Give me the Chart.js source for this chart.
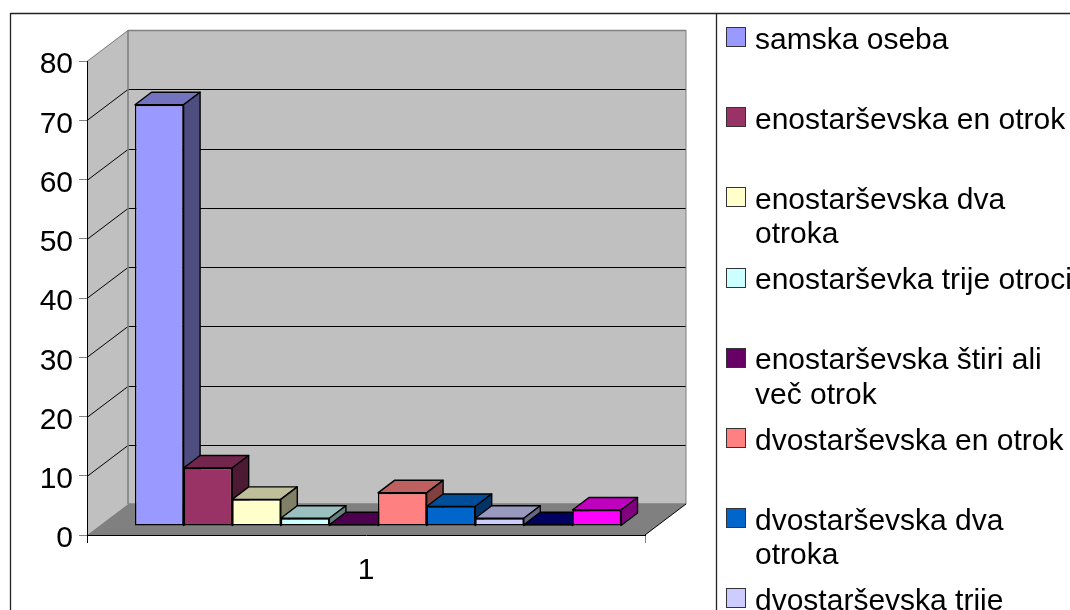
<!DOCTYPE html>
<html>
<head>
<meta charset="utf-8">
<title>Chart</title>
<script src="https://cdn.jsdelivr.net/npm/chart.js@4/dist/chart.umd.min.js"></script>
<style>
body { margin: 0; background: #fff; }
canvas { display: block; }
</style>
</head>
<body>
<canvas id="chart" width="1070" height="610"></canvas>
<script>
var categories = ["1"];
var seriesNames = [
    "samska oseba",
    "enostarševska en otrok",
    "enostarševska dva\notroka",
    "enostarševka trije otroci",
    "enostarševska štiri ali\nveč otrok",
    "dvostarševska en otrok",
    "dvostarševska dva\notroka",
    "dvostarševska trije\notroci",
    "dvostarševska štiri ali\nveč otrok",
    "drugo"
];
var seriesValues = [71.1, 9.8, 4.5, 1.3, 0.2, 5.6, 3.3, 1.3, 0.2, 2.7];
var seriesColors = ["#9999ff", "#993366", "#ffffcc", "#ccffff", "#660066", "#ff8080", "#0066cc", "#ccccff", "#000080", "#ff00ff"];
var yTicks = [0, 10, 20, 30, 40, 50, 60, 70, 80];

var FONT = '"Liberation Sans", Arial, sans-serif';
// depth of the box and of the bars, in px
var BACK = {x: 41, y: -31};
var BAR_FRONT = {x: 12, y: -9};
var BAR_DEPTH = {x: 16.5, y: -12.5};

function shade(hex, k) {
    var n = parseInt(hex.slice(1), 16);
    var r = Math.round((n >> 16 & 255) * k);
    var g = Math.round((n >> 8 & 255) * k);
    var b = Math.round((n & 255) * k);
    return "rgb(" + r + "," + g + "," + b + ")";
}

function poly(ctx, pts, fill, stroke, lw) {
    ctx.beginPath();
    ctx.moveTo(pts[0][0], pts[0][1]);
    for (var i = 1; i < pts.length; i++) ctx.lineTo(pts[i][0], pts[i][1]);
    ctx.closePath();
    if (fill) { ctx.fillStyle = fill; ctx.fill(); }
    if (stroke) { ctx.strokeStyle = stroke; ctx.lineWidth = lw || 1; ctx.stroke(); }
}

function line(ctx, x1, y1, x2, y2, color, lw) {
    ctx.beginPath();
    ctx.moveTo(x1, y1);
    ctx.lineTo(x2, y2);
    ctx.strokeStyle = color;
    ctx.lineWidth = lw || 1;
    ctx.stroke();
}

// walls, floor and grid behind the bars
var boxPlugin = {
    id: "box",
    beforeDraw: function (chart) {
        var ctx = chart.ctx, a = chart.chartArea, y = chart.scales.y;
        var l = a.left, r = a.right, t = a.top, b = a.bottom;
        var bx = BACK.x, by = BACK.y;
        ctx.save();
        poly(ctx, [[l, b], [l, t], [l + bx, t + by], [l + bx, b + by]], "#c0c0c0");
        poly(ctx, [[l + bx, t + by], [r + bx, t + by], [r + bx, b + by], [l + bx, b + by]], "#c0c0c0");
        poly(ctx, [[l, b], [r, b], [r + bx, b + by], [l + bx, b + by]], "#808080");
        yTicks.forEach(function (v) {
            var p = Math.round(y.getPixelForValue(v)) + 0.5;
            if (v === 0) return;
            var c = v === yTicks[yTicks.length - 1] ? "#808080" : "#000";
            line(ctx, l, p, l + bx, p + by, c, 1);
            line(ctx, l + bx, p + by, r + bx, p + by, c, v === 80 ? 1.5 : 1);
        });
        line(ctx, l + bx, t + by, l + bx, b + by, "#808080", 1.6);
        line(ctx, r + bx, t + by, r + bx, b + by, "#808080", 1);
        line(ctx, l + bx, b + by, r + bx, b + by, "#808080", 1.5);
        line(ctx, r, b, r + bx, b + by, "#000", 1);
        ctx.restore();
    },
    // first series has to be painted first so the next one covers its side
    beforeDatasetsDraw: function (chart) {
        var ctx = chart.ctx;
        var dx = BAR_DEPTH.x, dy = BAR_DEPTH.y;
        ctx.save();
        ctx.translate(BAR_FRONT.x, BAR_FRONT.y);
        ctx.lineJoin = "round";
        chart.data.datasets.forEach(function (ds, i) {
            var bar = chart.getDatasetMeta(i).data[0];
            var x1 = bar.x - bar.width / 2, x2 = bar.x + bar.width / 2;
            var top = bar.y, base = bar.base;
            poly(ctx, [[x1, top], [x1 + dx, top + dy], [x2 + dx, top + dy], [x2, top]], shade(seriesColors[i], 0.75), "#000", 1.4);
            poly(ctx, [[x2, top], [x2 + dx, top + dy], [x2 + dx, base + dy], [x2, base]], shade(seriesColors[i], 0.5), "#000", 1.4);
            bar.draw(ctx, chart.chartArea);
        });
        ctx.restore();
        return false;
    },
    // frame and legend
    afterDraw: function (chart) {
        var ctx = chart.ctx;
        ctx.save();
        line(ctx, 10.5, 13.5, 1070, 13.5, "#222", 1.3);
        line(ctx, 10.5, 13, 10.5, 610, "#222", 1.3);
        line(ctx, 716.5, 13, 716.5, 610, "#222", 1.3);
        ctx.font = "30px " + FONT;
        ctx.textAlign = "left";
        ctx.textBaseline = "alphabetic";
        seriesNames.forEach(function (name, i) {
            var cy = 38 + i * 80.2;
            ctx.fillStyle = seriesColors[i];
            ctx.fillRect(726.5, Math.round(cy) - 10.5, 19, 19);
            ctx.strokeStyle = "#333";
            ctx.lineWidth = 1;
            ctx.strokeRect(726.5, Math.round(cy) - 10.5, 19, 19);
            ctx.fillStyle = "#000";
            name.split("\n").forEach(function (txt, k) {
                ctx.fillText(txt, 755, cy + 10.5 + k * 34.5);
            });
        });
        ctx.restore();
    }
};

var datasets = seriesNames.map(function (name, i) {
    return {
        label: name.replace("\n", " "),
        data: [seriesValues[i]],
        backgroundColor: seriesColors[i],
        borderColor: "#000",
        borderWidth: 1.4,
        borderSkipped: false,
        categoryPercentage: 0.871,
        barPercentage: 1
    };
});

var myChart = new Chart(document.getElementById("chart").getContext("2d"), {
    type: "bar",
    data: {labels: categories, datasets: datasets},
    plugins: [boxPlugin],
    options: {
        responsive: false,
        animation: false,
        layout: {padding: {left: 0, right: 425, top: 61, bottom: 0}},
        plugins: {legend: {display: false}, tooltip: {enabled: false}},
        scales: {
            x: {
                afterFit: function (s) { s.height = 75; },
                border: {color: "#000"},
                grid: {
                    drawOnChartArea: false,
                    tickLength: 8,
                    color: function (c) { return c.index === 0 ? "#000" : "#808080"; }
                },
                ticks: {color: "#000", padding: 10, font: {family: FONT, size: 30}}
            },
            y: {
                min: 0,
                max: 80,
                afterFit: function (s) { s.width = 87; },
                afterBuildTicks: function (s) { s.ticks = yTicks.map(function (v) { return {value: v}; }); },
                border: {color: "#000"},
                grid: {drawOnChartArea: false, tickLength: 8, color: "#808080"},
                ticks: {color: "#000", padding: 6, labelOffset: 4, font: {family: FONT, size: 30}}
            }
        }
    }
});
</script>
</body>
</html>
